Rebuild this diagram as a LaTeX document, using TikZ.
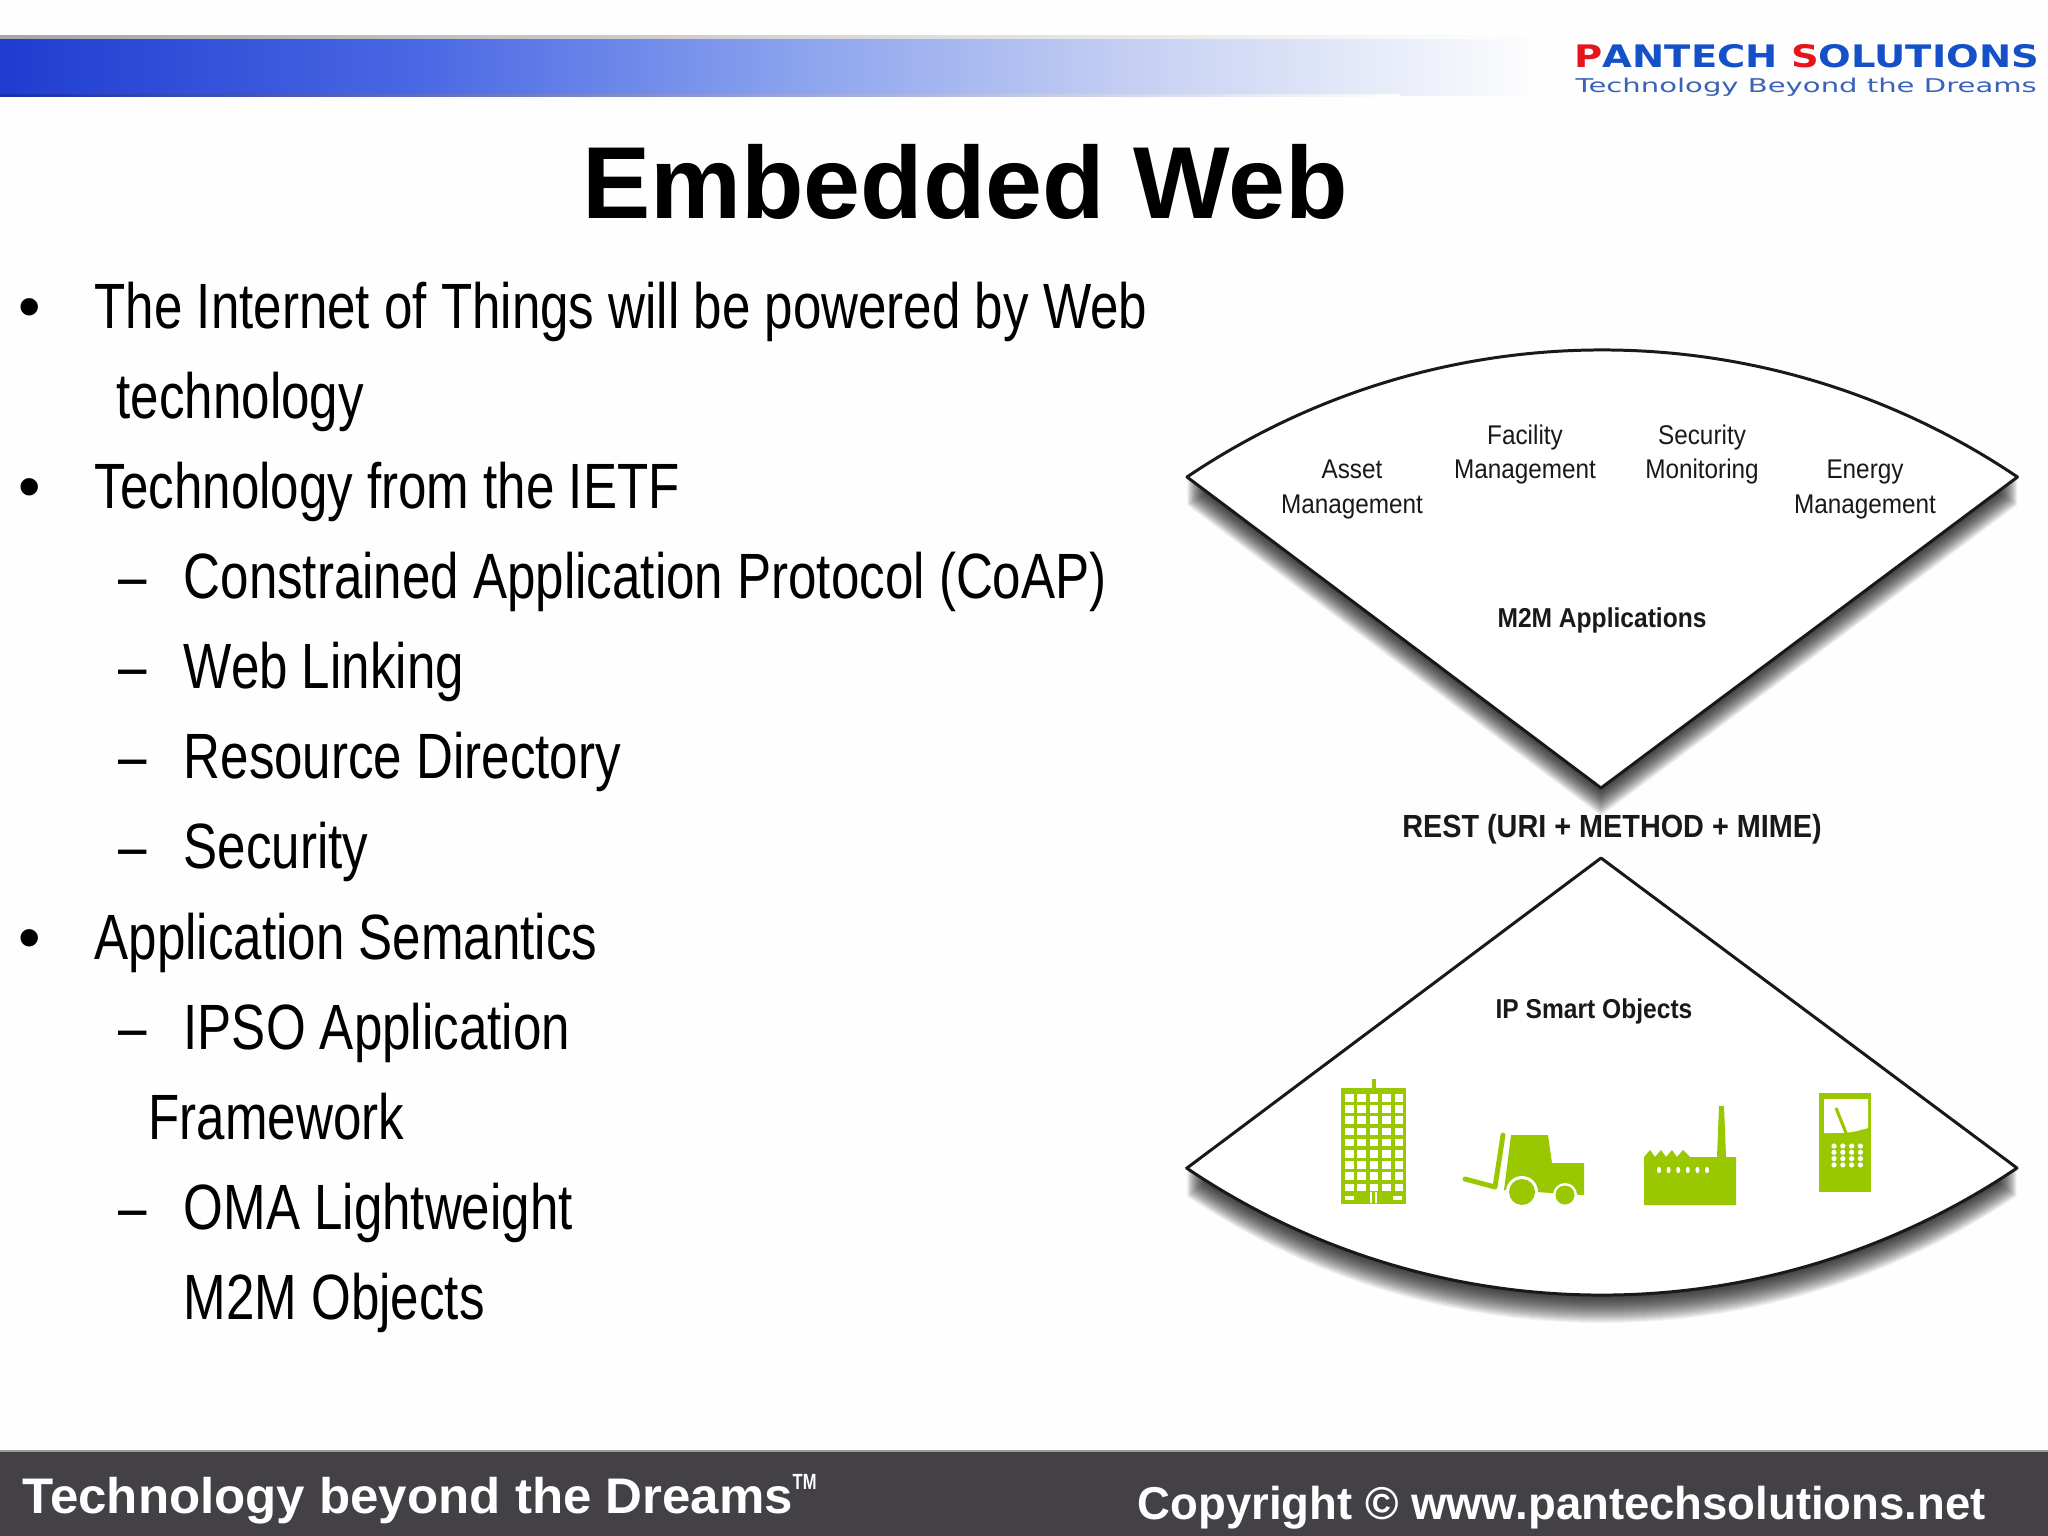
\documentclass[tikz,border=0pt]{standalone}
\usepackage{fontspec}
\setmainfont{Liberation Sans}
\newfontfamily\bodyf[FakeStretch=0.798]{Liberation Sans}
\newfontfamily\figf[FakeStretch=0.9]{Liberation Sans}
\newfontfamily\footAf[FakeStretch=1.02]{Liberation Sans}
\newfontfamily\footBf[FakeStretch=0.988]{Liberation Sans}
\newfontfamily\tmf[FakeStretch=0.75]{Liberation Sans}
\newfontfamily\logof[FakeStretch=1.24]{DejaVu Sans}
\newfontfamily\tagf[FakeStretch=1.53]{DejaVu Sans}
\newcommand{\px}[1]{\fontsize{\fpeval{#1*0.2845}pt}{\fpeval{#1*0.34}pt}\selectfont}
\definecolor{leaf}{HTML}{99C800}
\definecolor{barfoot}{HTML}{434145}
\definecolor{logoblue}{HTML}{1450C8}
\definecolor{logotag}{HTML}{3A62B8}
\definecolor{logored}{HTML}{E8141C}
\definecolor{bandA}{HTML}{1F3CD0}
\definecolor{bandB}{HTML}{4A68E4}
\definecolor{bandC}{HTML}{8CA3EE}
\definecolor{bandD}{HTML}{C4CFF2}
\definecolor{paper}{HTML}{FEFEFE}
\tikzset{
  bodytext/.style={anchor=base west,inner sep=0pt,font={\bodyf\px{64}},text=black},
  bullet/.style={anchor=base west,inner sep=0pt,font={\px{64}},text=black},
  dashmark/.style={anchor=base west,inner sep=0pt,font={\bodyf\px{64}},text=black},
  figtext/.style={anchor=base,inner sep=0pt,font={\figf\px{27}},text=black!90},
  figbold/.style={anchor=base,inner sep=0pt,font={\figf\bfseries\px{27.3}},text=black!90},
  fan/.style={fill=white,draw=black!90,line width=0.85pt,line join=round},
  leafshape/.style={fill=leaf,draw=none},
  hole/.style={fill=white,draw=none},
}
\begin{document}
\begin{tikzpicture}[x=0.01cm,y=-0.01cm]
\useasboundingbox (0,0) rectangle (2048,1536);
\fill[paper] (0,0) rectangle (2048,1536);
% header band
\shade[left color=bandA,right color=bandB] (0,37) rectangle (420,95);
\shade[left color=bandB,right color=bandC] (420,37) rectangle (800,95);
\shade[left color=bandC,right color=bandD] (800,37) rectangle (1130,95);
\shade[left color=bandD,right color=paper] (1130,37) rectangle (1540,95);
\shade[left color=gray!70,right color=paper] (0,35) rectangle (1500,38);
\shade[left color=bandA!80!black,right color=paper] (0,94) rectangle (1400,96);
\node[anchor=base west,inner sep=0pt,font={\logof\bfseries\px{31}}] (logo) at (1574,67) {\textcolor{logored}{P}\textcolor{logoblue}{ANTECH} \textcolor{logored}{S}\textcolor{logoblue}{OLUTIONS}};
\node[anchor=base west,inner sep=0pt,font={\tagf\px{19}},text=logotag] (tag) at (1575,92) {Technology Beyond the Dreams};
% title
\node[anchor=base,inner sep=0pt,font={\bfseries\px{102.3}}] (title) at (965,218) {Embedded Web};
% bullets
\node[bullet] (b1) at (18,328) {•};
\node[bodytext] (t1) at (94,328) {The Internet of Things will be powered by Web};
\node[bodytext] (t2) at (116,418) {technology};
\node[bullet] (b2) at (18,508) {•};
\node[bodytext] (t3) at (94,508) {Technology from the IETF};
\node[dashmark] (d1) at (118,598) {–};
\node[bodytext] (t4) at (183,598) {Constrained Application Protocol (CoAP)};
\node[dashmark] (d2) at (118,688) {–};
\node[bodytext] (t5) at (183,688) {Web Linking};
\node[dashmark] (d3) at (118,778) {–};
\node[bodytext] (t6) at (183,778) {Resource Directory};
\node[dashmark] (d4) at (118,868) {–};
\node[bodytext] (t7) at (183,868) {Security};
\node[bullet] (b3) at (18,959) {•};
\node[bodytext] (t8) at (94,959) {Application Semantics};
\node[dashmark] (d5) at (118,1049) {–};
\node[bodytext] (t9) at (183,1049) {IPSO Application};
\node[bodytext] (t10) at (148,1139) {Framework};
\node[dashmark] (d6) at (118,1229) {–};
\node[bodytext] (t11) at (183,1229) {OMA Lightweight};
\node[bodytext] (t12) at (183,1319) {M2M Objects};
% fan shadows
\foreach \k in {1,...,28}{
  \fill[black,opacity=0.045,shift={(0,\k)}] (1187,477) arc[start angle=124.03,end angle=55.97,radius=7.416cm] -- (1601,788) -- cycle;
  \fill[black,opacity=0.045,shift={(0,\k)}] (1187,1168) -- (1601,858) -- (2017,1168) arc[start angle=304.03,end angle=235.97,radius=7.416cm] -- cycle;
}
\path[fan] (1187,477) arc[start angle=124.03,end angle=55.97,radius=7.416cm] -- (1601,788) -- cycle;
\path[fan] (1187,1168) -- (1601,858) -- (2017,1168) arc[start angle=304.03,end angle=235.97,radius=7.416cm] -- cycle;
% fan labels
\node[figtext] (asset1) at (1352,478) {Asset};
\node[figtext] (asset2) at (1352,513) {Management};
\node[figtext] (fac1) at (1525,444) {Facility};
\node[figtext] (fac2) at (1525,478) {Management};
\node[figtext] (sec1) at (1702,444) {Security};
\node[figtext] (sec2) at (1702,478) {Monitoring};
\node[figtext] (en1) at (1865,478) {Energy};
\node[figtext] (en2) at (1865,513) {Management};
\node[figbold] (m2m) at (1602,627) {M2M Applications};
\node[figbold,font={\figf\bfseries\px{32}}] (rest) at (1612,837) {REST (URI + METHOD + MIME)};
\node[figbold] (ipso) at (1594,1018) {IP Smart Objects};
% building
\fill[leafshape] (1372,1079) rectangle (1376,1090);
\fill[leafshape] (1341,1088) rectangle (1406,1204);
\foreach \c in {0,...,4}\foreach \r in {0,...,8}{
  \fill[hole] ({1345+\c*12.4},{1094+\r*11.2}) rectangle ++(8.6,7.6);
}
\fill[hole] (1345,1196) rectangle ++(9,4);
\fill[hole] (1393,1196) rectangle ++(9,4);
\fill[hole] (1370,1192) rectangle ++(2,11);
\fill[hole] (1375,1192) rectangle ++(2,11);
% forklift
\fill[leafshape] (1511,1135) -- (1548,1135) -- (1552,1163) -- (1584,1163) -- (1584,1195) -- (1504,1190) -- cycle;
\draw[leaf,line width=1.4pt,line cap=round,line join=round] (1503,1135) -- (1495,1187) -- (1465,1179);
\fill[hole] (1522,1192) circle[radius=16];
\fill[leafshape] (1522,1192) circle[radius=13];
\fill[hole] (1565,1195) circle[radius=12];
\fill[leafshape] (1565,1195) circle[radius=9.5];
% factory
\fill[leafshape] (1644,1205) -- (1644,1157) -- (1650,1150) -- (1655,1157) -- (1661,1150) -- (1666,1157) -- (1672,1150) -- (1677,1157) -- (1683,1150) -- (1690,1157) -- (1717,1157) -- (1719,1106) -- (1724,1106) -- (1726,1157) -- (1736,1157) -- (1736,1205) -- cycle;
\foreach \i in {0,...,5}{
  \fill[hole] ({1659+\i*9.6},1170) ellipse[x radius=2,y radius=3.2];
}
% meter
\fill[leafshape] (1819,1093) rectangle (1871,1192);
\fill[hole] (1824,1099) -- (1868,1099) -- (1868,1128) .. controls (1850,1133) .. (1824,1133) -- cycle;
\draw[leaf,line width=0.9pt] (1836,1108) -- (1846,1133);
\foreach \c in {0,...,3}\foreach \r in {0,...,3}{
  \fill[hole] ({1834+\c*8.8},{1146+\r*6.3}) circle[radius=2.6];
}
% footer
\fill[barfoot] (0,1451) rectangle (2048,1536);
\fill[gray!80] (0,1450) rectangle (2048,1452);
\node[anchor=base west,inner sep=0pt,font={\footAf\bfseries\px{50}},text=white] (foot1) at (22,1513) {Technology beyond the Dreams};
\node[anchor=base west,inner sep=0pt,font={\tmf\bfseries\px{22}},text=white] (tm) at (792,1489) {TM};
\node[anchor=base west,inner sep=0pt,font={\footBf\bfseries\px{46}},text=white] (foot2) at (1137,1519) {Copyright © www.pantechsolutions.net};
\end{tikzpicture}
\end{document}
